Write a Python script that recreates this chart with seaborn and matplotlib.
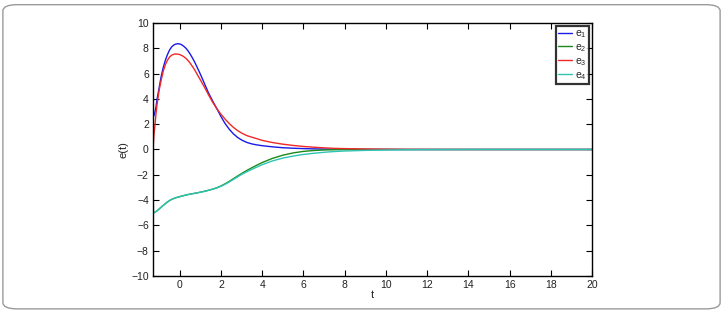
import numpy as np
import pandas as pd
import matplotlib
matplotlib.use("Agg")
import matplotlib.pyplot as plt
import seaborn as sns
from matplotlib.patches import FancyBboxPatch

t = [-1.3, -1.28, -1.25, -1.2, -1.15, -1.1, -1.0, -0.9, -0.8, -0.7,
     -0.6, -0.5, -0.4, -0.3, -0.2, -0.1, 0, 0.1, 0.2, 0.3,
     0.4, 0.5, 0.6, 0.7, 0.8, 0.9, 1.0, 1.2, 1.4, 1.6,
     1.8, 2.0, 2.2, 2.4, 2.6, 2.8, 3.0, 3.25, 3.5, 3.75,
     4.0, 4.5, 5.0, 5.5, 6.0, 6.5, 7.0, 7.5, 8.0, 9.0,
     10, 11, 12, 14, 16, 18, 20]
e1 = [2.6, 2.6, 2.7, 3.0, 3.4, 4.0, 4.9, 5.8, 6.5, 7.05,
      7.5, 7.85, 8.1, 8.25, 8.33, 8.36, 8.34, 8.27, 8.15, 8.0,
      7.8, 7.55, 7.28, 6.98, 6.65, 6.3, 5.95, 5.2, 4.45, 3.82,
      3.22, 2.6, 2.05, 1.6, 1.24, 0.96, 0.75, 0.56, 0.44, 0.36,
      0.3, 0.21, 0.14, 0.1, 0.07, 0.05, 0.035, 0.025, 0.018, 0.01,
      0.005, 0.0, 0.0, 0.0, 0.0, 0.0, 0.0]
e2 = [-1.0, -5.0, -5.0, -4.95, -4.9, -4.84, -4.7, -4.56, -4.42, -4.28,
      -4.15, -4.04, -3.95, -3.88, -3.82, -3.77, -3.73, -3.68, -3.64, -3.6,
      -3.56, -3.53, -3.5, -3.47, -3.44, -3.41, -3.37, -3.3, -3.22, -3.13,
      -3.02, -2.88, -2.71, -2.52, -2.31, -2.1, -1.9, -1.66, -1.44, -1.23,
      -1.03, -0.7, -0.45, -0.27, -0.15, -0.08, -0.04, -0.02, -0.01, 0.0,
      0.0, 0.0, 0.0, 0.0, 0.0, 0.0, 0.0]
e3 = [0.0, 0.5, 1.2, 2.0, 2.9, 3.6, 4.7, 5.5, 6.2, 6.7,
      7.05, 7.3, 7.45, 7.52, 7.55, 7.54, 7.5, 7.43, 7.33, 7.2,
      7.03, 6.83, 6.6, 6.35, 6.07, 5.78, 5.5, 4.92, 4.3, 3.72,
      3.22, 2.78, 2.4, 2.05, 1.75, 1.5, 1.3, 1.1, 0.97, 0.85,
      0.72, 0.55, 0.42, 0.32, 0.24, 0.18, 0.13, 0.09, 0.07, 0.04,
      0.02, 0.01, 0.005, 0.0, 0.0, 0.0, 0.0]
e4 = [-1.0, -5.0, -5.0, -4.95, -4.9, -4.84, -4.7, -4.56, -4.42, -4.28,
      -4.15, -4.04, -3.95, -3.88, -3.82, -3.77, -3.73, -3.68, -3.64, -3.6,
      -3.56, -3.53, -3.5, -3.47, -3.44, -3.41, -3.38, -3.31, -3.23, -3.14,
      -3.04, -2.91, -2.75, -2.57, -2.37, -2.17, -1.97, -1.76, -1.57, -1.38,
      -1.2, -0.9, -0.68, -0.52, -0.39, -0.3, -0.22, -0.16, -0.12, -0.07,
      -0.04, -0.02, -0.01, 0.0, 0.0, 0.0, 0.0]

series_names = [r"$\mathregular{e_1}$", r"$\mathregular{e_2}$", r"$\mathregular{e_3}$", r"$\mathregular{e_4}$"]
colors = ["#1a1ae6", "#1a8a1a", "#f02828", "#2ec4b4"]
x_ticks = [0, 2, 4, 6, 8, 10, 12, 14, 16, 18, 20]
y_ticks = [-10, -8, -6, -4, -2, 0, 2, 4, 6, 8, 10]

rows = []
for name, vals in zip(series_names, [e1, e2, e3, e4]):
    for ti, v in zip(t, vals):
        rows.append({"t": ti, "e": v, "series": name})
df = pd.DataFrame(rows)

sns.set_style("ticks")
plt.rcParams["font.family"] = ["Liberation Sans", "DejaVu Sans"]
plt.rcParams["mathtext.fontset"] = "custom"
plt.rcParams["mathtext.rm"] = "Liberation Sans"
plt.rcParams["mathtext.it"] = "Liberation Sans"

fig = plt.figure(figsize=(7.23, 3.12), dpi=100)
fig.patches.append(FancyBboxPatch((0.004, 0.01), 0.992, 0.975, boxstyle="round,pad=0,rounding_size=0.02",
                                  transform=fig.transFigure, fill=False, edgecolor="#9a9a9a", linewidth=1.0))
ax = fig.add_axes([0.2116, 0.1154, 0.6072, 0.8109])

sns.lineplot(data=df, x="t", y="e", hue="series", palette=colors, ax=ax, linewidth=1.0,
             sort=False, estimator=None, legend=True)

ax.set_xlim(-1.3, 20)
ax.set_ylim(-10, 10)
ax.set_xticks(x_ticks)
ax.set_yticks(y_ticks)
ax.set_xticklabels([str(v) for v in x_ticks])
ax.set_yticklabels([str(v).replace("-", "\u2212") for v in y_ticks])
ax.tick_params(direction="in", top=True, right=True, length=4, width=0.8, labelsize=7.5, pad=3,
               colors="black", labelcolor="#222222")
for s in ax.spines.values():
    s.set_visible(True)
    s.set_linewidth(1.0)
    s.set_color("black")
ax.set_xlabel("t", fontsize=8, labelpad=0, color="#222222")
ax.set_ylabel("e(t)", fontsize=8, labelpad=2, color="#222222")

leg = ax.legend(loc="upper right", fontsize=7.5, handlelength=1.4, handletextpad=0.25,
                borderpad=0.2, labelspacing=0.2, frameon=True, fancybox=False,
                borderaxespad=0.3)
leg.get_frame().set_edgecolor("black")
leg.get_frame().set_linewidth(1.6)
for line in leg.get_lines():
    line.set_linewidth(1.0)

fig.savefig("out.png", dpi=100)
